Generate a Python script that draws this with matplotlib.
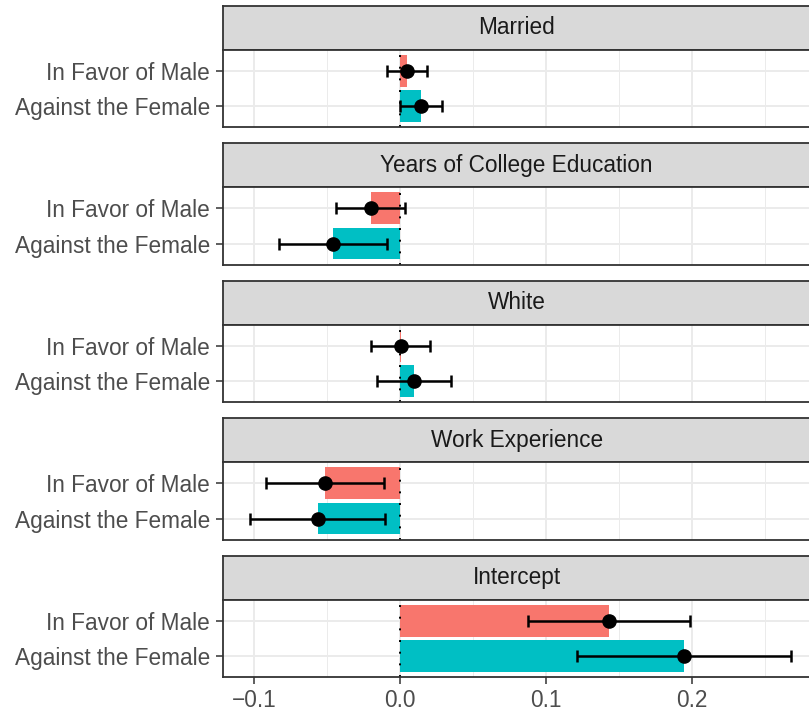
import matplotlib
matplotlib.use("Agg")
import matplotlib.pyplot as plt
import numpy as np

plt.rcParams['font.family'] = ['Liberation Sans', 'DejaVu Sans']

panels = ["Married", "Years of College Education", "White", "Work Experience", "Intercept"]
groups = ["In Favor of Male", "Against the Female"]
# estimates [male, female]
est = [
    [0.005, 0.0145],
    [-0.020, -0.0455],
    [0.0005, 0.0095],
    [-0.051, -0.056],
    [0.1435, 0.195],
]
lower = [
    [-0.0085, 0.0],
    [-0.044, -0.0825],
    [-0.0195, -0.0155],
    [-0.0915, -0.1025],
    [0.088, 0.1215],
]
upper = [
    [0.0185, 0.029],
    [0.0035, -0.009],
    [0.021, 0.035],
    [-0.0105, -0.0098],
    [0.1985, 0.268],
]
colors = ["#F8766D", "#00BFC4"]
xticks = [-0.1, 0.0, 0.1, 0.2]
xticklabels = ["\u22120.1", "0.0", "0.1", "0.2"]

W, H = 809, 711
fig = plt.figure(figsize=(W / 100, H / 100), dpi=100)

left_px, right_px = 223.3, 810
period = 137.5
strip_top0, strip_h, panel_h = 5.7, 44, 77.5
xlim = (-0.1209, 0.281)
bc = "#333333"
fs = 16.3

for i, name in enumerate(panels):
    st = strip_top0 + period * i
    sb = st + strip_h
    pb = sb + panel_h
    # strip
    sax = fig.add_axes([left_px / W, 1 - sb / H, (right_px - left_px) / W, strip_h / H])
    sax.set_facecolor("#D9D9D9")
    sax.set_xticks([]); sax.set_yticks([])
    for s in sax.spines.values():
        s.set_color(bc); s.set_linewidth(1.3)
    sax.text(0.5, 0.5, name, ha="center", va="center", fontsize=fs, color="#1A1A1A",
             transform=sax.transAxes)
    # panel
    ax = fig.add_axes([left_px / W, 1 - pb / H, (right_px - left_px) / W, panel_h / H])
    ax.set_facecolor("white")
    ypos = np.array([2, 1])
    ax.set_xlim(*xlim)
    ax.set_ylim(0.4, 2.6)
    for x in [-0.15, -0.05, 0.05, 0.15, 0.25]:
        ax.axvline(x, color="#EBEBEB", lw=0.7, zorder=0)
    for x in xticks:
        ax.axvline(x, color="#EBEBEB", lw=1.4, zorder=0)
    for y in ypos:
        ax.axhline(y, color="#EBEBEB", lw=1.4, zorder=0)
    ax.barh(ypos, est[i], height=0.9, color=colors, zorder=2)
    ax.axvline(0, color="black", lw=1.4, linestyle=(0, (1, 5)), zorder=3)
    for j in range(2):
        ax.errorbar(est[i][j], ypos[j],
                    xerr=[[est[i][j] - lower[i][j]], [upper[i][j] - est[i][j]]],
                    fmt="o", color="black", ms=9.5, elinewidth=1.8, capsize=4,
                    capthick=1.8, zorder=4)
    ax.set_yticks(ypos)
    ax.set_yticklabels(groups, fontsize=fs, color="#4D4D4D")
    ax.tick_params(axis="y", length=4.7, width=1.1, color=bc, pad=5)
    if i == len(panels) - 1:
        ax.set_xticks(xticks)
        ax.set_xticklabels(xticklabels, fontsize=fs, color="#4D4D4D")
        ax.tick_params(axis="x", length=4.7, width=1.1, color=bc, pad=4)
    else:
        ax.set_xticks([])
    for s in ax.spines.values():
        s.set_color(bc); s.set_linewidth(1.3)
        s.set_zorder(5)

fig.savefig("out.png", dpi=100, facecolor="white")
